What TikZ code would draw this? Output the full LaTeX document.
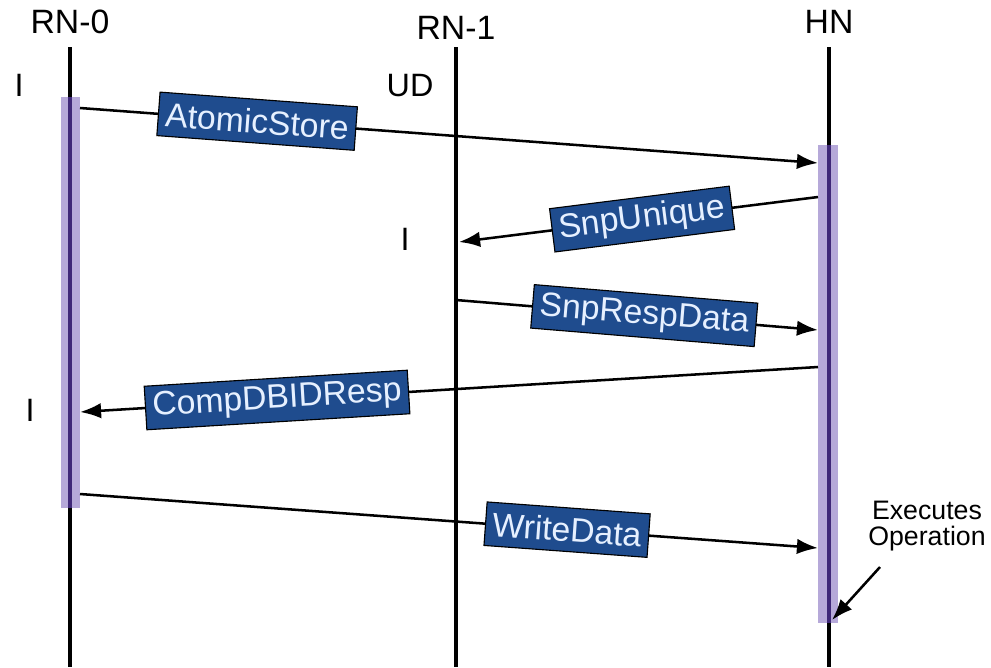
\documentclass[tikz,border=0pt]{standalone}
\usepackage{fontspec}
\setmainfont{Liberation Sans}
\usetikzlibrary{arrows.meta}
\definecolor{msgblue}{HTML}{1F4C8E}
\definecolor{msgtext}{HTML}{E6F0FF}
\definecolor{barfill}{HTML}{B6A9D9}
\definecolor{barline}{HTML}{3F2878}
\tikzstyle{actor} = [inner sep=0pt, font=\fontsize{24}{28}\selectfont]
\tikzstyle{st} = [inner sep=0pt, font=\fontsize{23}{27}\selectfont]
\tikzstyle{msg} = [rectangle, draw=black, line width=0.8pt, fill=msgblue, text=msgtext,
    inner xsep=5pt, inner ysep=1pt, minimum height=31pt, sloped,
    font=\fontsize{24}{28}\selectfont]
\tikzstyle{life} = [-, line width=2.8pt]
\tikzstyle{bar} = [draw=none, fill=barfill]

\begin{document}
\begin{tikzpicture}[->,>={Latex[length=15pt,width=11pt]},line width=1.8pt,
                    x=0.025cm,y=-0.025cm]
  \useasboundingbox (0,0) rectangle (991,667);

  % lifelines
  \node[actor] (rn0) at (70,22)  {RN-0};
  \node[actor] (rn1) at (456,28) {RN-1};
  \node[actor] (hn)  at (829,22) {HN};
  \coordinate (rn0t) at (70,47);  \coordinate (rn0b) at (70,667);
  \coordinate (rn1t) at (456,47); \coordinate (rn1b) at (456,667);
  \coordinate (hnt)  at (829,47); \coordinate (hnb)  at (829,667);
  \draw[life] (rn0t) -- (rn0b);
  \draw[life] (rn1t) -- (rn1b);
  \draw[life] (hnt) -- (hnb);

  % activations
  \path[bar] (61,97) rectangle (80,508);
  \path[bar] (818,145) rectangle (838,623);
  \draw[life,barline] (70,97) -- (70,508);
  \draw[life,barline] (829,145) -- (829,623);

  % states
  \node[st] (s1) at (19,85)  {I};
  \node[st] (s2) at (410,86) {UD};
  \node[st] (s3) at (405,239) {I};
  \node[st] (s4) at (30,410) {I};

  % messages
  \coordinate (m1a) at (80,108);  \coordinate (m1b) at (818,163);
  \coordinate (m2a) at (818,197); \coordinate (m2b) at (459,242);
  \coordinate (m3a) at (456,300); \coordinate (m3b) at (818,330);
  \coordinate (m4a) at (818,367); \coordinate (m4b) at (80,412);
  \coordinate (m5a) at (80,494);  \coordinate (m5b) at (818,548);

  \draw (m1a) -- node[msg,pos=.24] {AtomicStore} (m1b);
  \draw (m2a) -- node[msg,pos=.49] {SnpUnique} (m2b);
  \draw (m3a) -- node[msg,pos=.52] {SnpRespData} (m3b);
  \draw (m4a) -- node[msg,pos=.733] {CompDBIDResp} (m4b);
  \draw (m5a) -- node[msg,pos=.66] {WriteData} (m5b);

  % note
  \node[inner sep=0pt, align=center, font=\fontsize{19}{18}\selectfont] (exec) at (927,526)
    {Executes\\Operation};
  \coordinate (ex0) at (880,567); \coordinate (ex1) at (832,620);
  \draw (ex0) -- (ex1);
\end{tikzpicture}
\end{document}
